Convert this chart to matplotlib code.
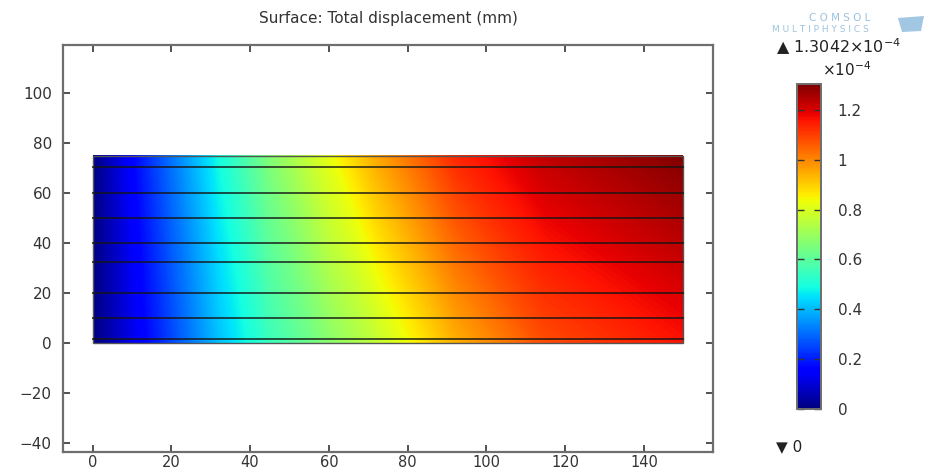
import numpy as np
import matplotlib
matplotlib.use("Agg")
import matplotlib.pyplot as plt
from matplotlib.patches import Rectangle, Polygon
from matplotlib.cm import ScalarMappable
from matplotlib.colors import Normalize

plt.rcParams['font.family'] = ['DejaVu Sans']
plt.rcParams['mathtext.default'] = 'regular'

# ---- data (displacement in units of 1e-4 mm) ----
x_nodes = [0, 10, 20, 32, 45, 60, 72, 92, 115, 150]
y_nodes = [0, 75]
disp_bottom = [0, 0.12, 0.25, 0.41, 0.55, 0.67, 0.76, 0.94, 1.08, 1.16]
disp_top = [0, 0.16, 0.31, 0.49, 0.66, 0.82, 0.95, 1.13, 1.23, 1.30]
layer_y = [1.8, 10, 20, 32.5, 40, 50, 60, 70.5]
vmax = 1.3042
cbar_ticks = [0, 0.2, 0.4, 0.6, 0.8, 1.0, 1.2]
cbar_ticklabels = ["0", "0.2", "0.4", "0.6", "0.8", "1", "1.2"]
xticks = [0, 20, 40, 60, 80, 100, 120, 140]
yticks = [-40, -20, 0, 20, 40, 60, 80, 100]

W, H = 932, 470
fig = plt.figure(figsize=(W / 100, H / 100), dpi=100)

def frac(l, t, r, b):
    return [l / W, 1 - b / H, (r - l) / W, (b - t) / H]

ax = fig.add_axes(frac(63, 45, 713, 452))
txt = '#333333'
spc = '#6e6e6e'

X, Y = np.meshgrid(x_nodes, y_nodes)
Z = np.array([disp_bottom, disp_top])
levels = np.linspace(0, vmax, 256)
cs = ax.contourf(X, Y, Z, levels=levels, cmap='jet', vmin=0, vmax=vmax, antialiased=False)

for yl in layer_y:
    ax.plot([x_nodes[0], x_nodes[-1]], [yl, yl], color='#151515', lw=1.4, alpha=0.75)

ax.add_patch(Rectangle((x_nodes[0], y_nodes[0]), x_nodes[-1] - x_nodes[0],
                       y_nodes[-1] - y_nodes[0], fill=False, ec='#555555', lw=1.0))

ax.set_xlim(-7.5, 157.5)
ax.set_ylim(-43.6, 119.2)
ax.set_xticks(xticks)
ax.set_yticks(yticks)
ax.set_yticklabels([str(v).replace('-', '\u2212') for v in yticks])
ax.tick_params(axis='both', direction='in', length=5, width=1.2, color='#333333',
               labelsize=11, labelcolor=txt, top=True, right=True)
ax.tick_params(axis='x', pad=2, labelsize=10.5)
ax.tick_params(axis='y', pad=8)
for s in ax.spines.values():
    s.set_color(spc)
    s.set_linewidth(1.6)

fig.text(388 / W, 1 - 18 / H, "Surface: Total displacement (mm)", ha='center', va='center',
         fontsize=11, color=txt)

# colorbar
cax = fig.add_axes(frac(797, 84, 821, 409))
sm = ScalarMappable(norm=Normalize(0, vmax), cmap='jet')
cb = fig.colorbar(sm, cax=cax)
cb.set_ticks(cbar_ticks)
cb.set_ticklabels(cbar_ticklabels)
cax.tick_params(direction='in', length=5, width=1.0, color='#333333', labelsize=11,
                labelcolor=txt, left=True, right=True, pad=12)
cb.outline.set_edgecolor(spc)
cb.outline.set_linewidth(1.4)

fig.text(776 / W, 1 - 47 / H, "\u25b2 1.3042\u00d710$^{\u2212 4}$", ha='left', va='center',
         fontsize=11.5, color='#222222')
fig.text(822 / W, 1 - 70 / H, "\u00d710$^{\u2212 4}$", ha='left', va='center',
         fontsize=11, color='#222222')
fig.text(776 / W, 1 - 447 / H, "\u25bc 0", ha='left', va='center',
         fontsize=11, color='#222222')

# logo text
fig.text(840 / W, 1 - 18 / H, "C O M S O L", ha='center', va='center', fontsize=7.5,
         color='#9cc2de')
fig.text(820 / W, 1 - 29 / H, "M U L T I P H Y S I C S", ha='center', va='center', fontsize=6.5,
         color='#9cc2de')
fig.patches.append(Polygon([[898 / W, 1 - 18 / H], [924 / W, 1 - 16 / H], [921 / W, 1 - 31 / H],
                            [902 / W, 1 - 32 / H]], closed=True, transform=fig.transFigure,
                           fc='#8ab9dc', ec='none', alpha=0.8))

fig.savefig("out.png", dpi=100)
